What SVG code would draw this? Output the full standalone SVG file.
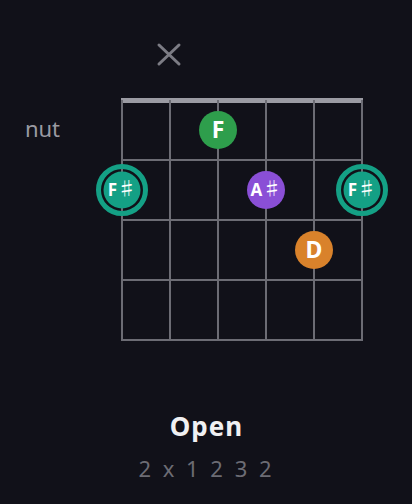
<svg xmlns="http://www.w3.org/2000/svg" width="412" height="504" viewBox="0 0 412 504">
<style>
.grid{stroke:#6c6c74;stroke-width:2;fill:none}
.lbl{font-family:"Noto Sans","Open Sans",sans-serif;font-weight:bold;font-size:23px;fill:#ffffff;text-anchor:middle}
.lbl2{font-size:17px}
.sh{font-family:"Noto Sans CJK JP",sans-serif;font-weight:normal;font-size:19px}
.ring{fill:none;stroke:#14a085;stroke-width:5}
</style>
<rect width="412" height="504" fill="#111119"/>
<g id="grid">
<rect x="121" y="98" width="242" height="5" fill="#9b9ba3"/>
<path class="grid" d="M122 100V340M170 100V340M218 100V340M266 100V340M314 100V340M362 100V340M121 160H363M121 220H363M121 280H363M121 340H363"/>
</g>
<g id="mute"><path d="M159 45L179 64M179 45L159 64" stroke="#7c7c84" stroke-width="3" stroke-linecap="round"/></g>
<text x="42.5" y="137" font-family="Noto Sans,sans-serif" font-size="22" fill="#9a9aa2" text-anchor="middle">nut</text>
<g id="F"><circle cx="218" cy="130" r="19" fill="#2e9e4c"/><text class="lbl" x="218" y="138">F</text></g>
<g id="Fs1"><circle class="ring" cx="122" cy="190" r="23.5"/><circle cx="122" cy="190" r="18.5" fill="#14a085"/><text class="lbl lbl2" x="122" y="196">F<tspan class="sh">♯</tspan></text></g>
<g id="As"><circle cx="266" cy="190" r="19" fill="#8a4fd6"/><text class="lbl lbl2" x="266" y="196">A<tspan class="sh">♯</tspan></text></g>
<g id="Fs2"><circle class="ring" cx="362" cy="190" r="23.5"/><circle cx="362" cy="190" r="18.5" fill="#14a085"/><text class="lbl lbl2" x="362" y="196">F<tspan class="sh">♯</tspan></text></g>
<g id="D"><circle cx="314" cy="250" r="19" fill="#d9822b"/><text class="lbl" x="314" y="258">D</text></g>
<text x="206.5" y="436" font-family="Noto Sans,sans-serif" font-weight="bold" font-size="26" fill="#f0f0f2" text-anchor="middle" letter-spacing="1">Open</text>
<text x="206.5" y="477" font-family="Noto Sans,sans-serif" font-size="22" fill="#6c6c74" text-anchor="middle" letter-spacing="3">2 x 1 2 3 2</text>
</svg>
